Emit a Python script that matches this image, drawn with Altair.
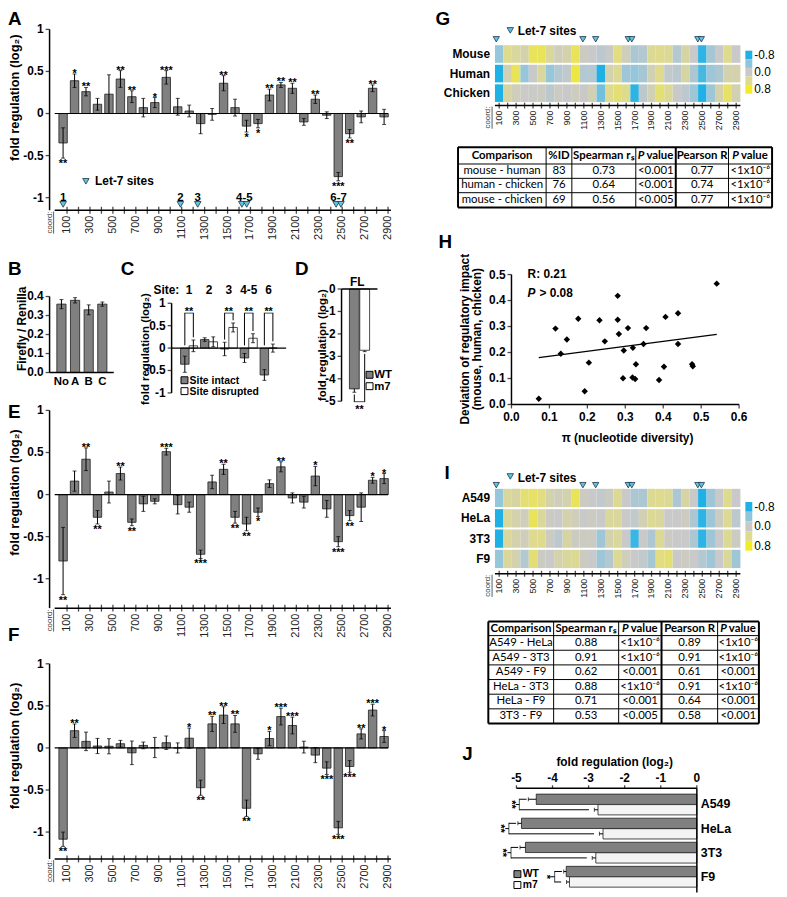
import altair as alt
import pandas as pd

# ================= data =================
coords = list(range(100, 3000, 100))
tick_coords = list(range(100, 3000, 100))
coord_tick_labels = [str(t) if t % 200 == 100 else "" for t in tick_coords]
let7_sites = [66, 1089, 1240, 1625, 1667, 2447, 2489]
let7_groups = ["1", "2", "3", "4-5", "6-7"]
let7_group_pos = [66, 1089, 1240, 1646, 2468]

A_val = [-0.35, 0.39, 0.26, 0.11, 0.23, 0.41, 0.20, 0.07, 0.13, 0.43, 0.08, 0.03, -0.12, -0.01, 0.36,
         0.07, -0.15, -0.12, 0.22, 0.34, 0.30, -0.10, 0.17, -0.02, -0.75, -0.24, -0.04, 0.30, -0.04]
A_err = [0.18, 0.08, 0.05, 0.07, 0.23, 0.10, 0.07, 0.11, 0.06, 0.08, 0.10, 0.07, 0.12, 0.07, 0.09,
         0.10, 0.07, 0.05, 0.07, 0.03, 0.06, 0.04, 0.05, 0.04, 0.05, 0.05, 0.07, 0.04, 0.09]
A_sig = ["**", "*", "**", "", "", "**", "**", "", "*", "***", "", "", "", "", "**",
         "", "*", "*", "**", "**", "**", "", "**", "", "***", "**", "", "**", ""]

E_val = [-0.79, 0.16, 0.42, -0.27, 0.03, 0.25, -0.33, -0.11, -0.08, 0.51, -0.12, -0.15, -0.71, 0.15, 0.30,
         -0.27, -0.35, -0.21, 0.13, 0.33, -0.04, -0.09, 0.22, -0.17, -0.56, -0.25, -0.15, 0.17, 0.19]
E_err = [0.40, 0.12, 0.135, 0.08, 0.13, 0.077, 0.04, 0.09, 0.03, 0.04, 0.11, 0.06, 0.05, 0.08, 0.06,
         0.07, 0.08, 0.05, 0.045, 0.06, 0.06, 0.07, 0.115, 0.10, 0.06, 0.06, 0.17, 0.035, 0.06]
E_sig = ["**", "", "**", "**", "", "**", "**", "", "", "***", "", "", "***", "", "**",
         "**", "**", "*", "", "**", "", "", "*", "", "***", "**", "", "*", "*"]

F_val = [-1.085, 0.205, 0.078, 0.023, 0.02, 0.05, -0.058, 0.03, 0.005, 0.062, 0.0, 0.116, -0.473, 0.286, 0.39,
         0.286, -0.717, -0.07, 0.112, 0.373, 0.267, 0.01, -0.085, -0.24, -0.95, -0.22, 0.167, 0.45, 0.136]
F_err = [0.085, 0.08, 0.11, 0.09, 0.09, 0.04, 0.14, 0.04, 0.12, 0.08, 0.06, 0.12, 0.09, 0.09, 0.10,
         0.10, 0.097, 0.065, 0.085, 0.10, 0.10, 0.07, 0.09, 0.075, 0.077, 0.07, 0.06, 0.07, 0.07]
F_sig = ["**", "**", "", "", "", "", "", "", "", "", "", "*", "**", "**", "**",
         "**", "**", "", "*", "***", "***", "", "", "***", "***", "***", "**", "***", "*"]

fold_ticks = [-1, -0.5, 0, 0.5, 1]
fold_tick_labels = ["-1", "-0.5", "0", "0.5", "1"]

B_cats = ["No", "A", "B", "C"]
B_val = [0.36, 0.38, 0.33, 0.36]
B_err = [0.024, 0.014, 0.026, 0.011]
B_ticks = [0.0, 0.1, 0.2, 0.3, 0.4]
B_tick_labels = ["0.0", "0.1", "0.2", "0.3", "0.4"]

C_sites = ["1", "2", "3", "4-5", "6"]
C_int_val = [-0.36, 0.19, -0.02, -0.22, -0.60]
C_int_err = [0.18, 0.04, 0.15, 0.10, 0.12]
C_dis_val = [0.05, 0.14, 0.46, 0.22, 0.0]
C_dis_err = [0.13, 0.11, 0.10, 0.10, 0.09]
C_sig = ["**", "", "**", "**", "**"]

D_cats = ["WT", "m7"]
D_val = [-4.45, -2.73]
D_err = [0.15, 0.06]
D_sig = ["**"]
D_ticks = [-5, -4, -3, -2, -1, 0]
D_tick_labels = ["-5", "-4", "-3", "-2", "-1", "0"]

G_rows = ["Mouse", "Human", "Chicken"]
G_mouse = [-0.35, 0.40, 0.30, 0.20, 0.60, 0.60, 0.30, 0.10, 0.20, 0.60, 0.05, 0.00, -0.10, 0.00, 0.45,
           0.10, -0.20, -0.15, 0.35, 0.40, 0.35, -0.15, 0.25, 0.00, -0.75, -0.25, 0.00, 0.40, 0.00]
G_human = [-0.80, 0.15, 0.60, -0.35, 0.00, 0.30, -0.35, -0.15, -0.05, 0.70, -0.15, -0.15, -0.80, 0.20, 0.35,
           -0.30, -0.35, -0.25, 0.15, 0.40, -0.05, -0.10, 0.25, -0.20, -0.65, -0.30, -0.20, 0.20, 0.20]
G_chicken = [-0.85, 0.25, 0.10, 0.02, 0.02, 0.05, -0.10, 0.04, 0.00, 0.07, 0.00, 0.15, -0.50, 0.40, 0.50,
             0.40, -0.75, -0.10, 0.15, 0.50, 0.35, 0.00, -0.10, -0.30, -0.80, -0.30, 0.20, 0.55, 0.15]

I_rows = ["A549", "HeLa", "3T3", "F9"]
I_a549 = [-0.35, 0.30, 0.25, 0.50, 0.55, 0.45, 0.20, 0.10, 0.20, 0.60, 0.05, 0.00, -0.05, 0.05, 0.35,
          0.00, -0.20, -0.20, 0.35, 0.40, 0.35, -0.20, 0.25, 0.00, -0.80, -0.30, 0.00, 0.40, 0.00]
I_hela = [-0.80, 0.30, 0.20, 0.10, 0.60, 0.30, 0.05, 0.00, 0.20, 0.10, 0.00, 0.05, 0.00, 0.30, 0.30,
          0.00, -0.05, 0.15, 0.35, 0.30, 0.00, 0.00, 0.05, -0.20, -0.75, -0.30, 0.05, 0.35, -0.10]
I_3t3 = [-0.80, 0.30, 0.20, 0.10, 0.40, 0.40, 0.05, -0.10, 0.25, 0.05, 0.05, 0.05, -0.30, 0.20, 0.30,
         0.00, -0.70, 0.00, -0.20, 0.35, 0.05, 0.00, 0.00, -0.20, -0.75, -0.30, 0.00, 0.35, 0.05]
I_f9 = [-0.35, 0.30, 0.20, -0.15, 0.50, 0.05, 0.00, 0.20, 0.30, 0.35, 0.05, 0.00, -0.30, -0.15, 0.35,
        0.10, 0.00, -0.05, -0.25, 0.45, 0.50, 0.00, 0.05, 0.00, -0.15, -0.30, 0.00, 0.30, -0.30]

heat_legend_vals = [-0.8, -0.4, 0.0, 0.4, 0.8]
heat_legend_ticks = [-0.8, 0.0, 0.8]
heat_legend_labels = ["-0.8", "0.0", "0.8"]

G_tbl_header = ["Comparison", "%ID", "Spearman rₛ", "P value", "Pearson R", "P value"]
G_tbl_rows = [["mouse - human", "83", "0.73", "<0.001", "0.77", "<1x10⁻⁶"],
              ["human - chicken", "76", "0.64", "<0.001", "0.74", "<1x10⁻⁶"],
              ["mouse - chicken", "69", "0.56", "<0.005", "0.77", "<1x10⁻⁶"]]

I_tbl_header = ["Comparison", "Spearman rₛ", "P value", "Pearson R", "P value"]
I_tbl_rows = [["A549 - HeLa", "0.88", "<1x10⁻⁶", "0.89", "<1x10⁻⁶"],
              ["A549 - 3T3", "0.91", "<1x10⁻⁶", "0.91", "<1x10⁻⁶"],
              ["A549 - F9", "0.62", "<0.001", "0.61", "<0.001"],
              ["HeLa - 3T3", "0.88", "<1x10⁻⁶", "0.91", "<1x10⁻⁶"],
              ["HeLa - F9", "0.71", "<0.001", "0.64", "<0.001"],
              ["3T3 - F9", "0.53", "<0.005", "0.58", "<0.001"]]

H_pi = [0.541, 0.280, 0.176, 0.232, 0.280, 0.116, 0.307, 0.355, 0.406, 0.439, 0.146, 0.130, 0.246, 0.283, 0.296,
        0.320, 0.348, 0.439, 0.204, 0.328, 0.402, 0.476, 0.478, 0.294, 0.319, 0.326, 0.389, 0.193, 0.072]
H_dev = [0.465, 0.418, 0.330, 0.324, 0.326, 0.292, 0.294, 0.294, 0.337, 0.351, 0.250, 0.195, 0.243, 0.271, 0.208,
         0.218, 0.233, 0.233, 0.161, 0.155, 0.145, 0.155, 0.147, 0.101, 0.104, 0.098, 0.094, 0.051, 0.022]
H_xticks = [0.0, 0.1, 0.2, 0.3, 0.4, 0.5, 0.6]
H_xtick_labels = ["0.0", "0.1", "0.2", "0.3", "0.4", "0.5", "0.6"]
H_yticks = [0.0, 0.1, 0.2, 0.3, 0.4, 0.5]
H_ytick_labels = ["0.0", "0.1", "0.2", "0.3", "0.4", "0.5"]

J_cats = ["A549", "HeLa", "3T3", "F9"]
J_wt = [-4.45, -4.86, -4.75, -3.62]
J_wt_err = [0.22, 0.10, 0.15, 0.07]
J_m7 = [-2.74, -2.60, -2.80, -3.53]
J_m7_err = [0.10, 0.10, 0.10, 0.08]
J_sig = ["**", "**", "**", "*"]
J_ticks = [-5, -4, -3, -2, -1, 0]
J_tick_labels = ["-5", "-4", "-3", "-2", "-1", "0"]

# ================= layout / style =================
W, H = 779, 889
FONT = "Liberation Sans"
TFONT = "Lato"
GRAY = "#808080"
EDGE = "#1e1e1e"
TRI_FILL = "#5fc5df"
TRI_EDGE = "#1d3347"
HEAT_RANGE = ["#1fb0e5", "#8fc5db", "#c9c9c9", "#dfdb8e", "#f3eb26"]
heat_scale = alt.Scale(domain=heat_legend_vals, range=HEAT_RANGE, clamp=True, interpolate="rgb")


def X(px):
    return px - 8


def Y(py):
    return py - 8


ONE = pd.DataFrame({"_": [0]})


def txt(s, x, y, size=12, weight="bold", angle=0, align="center", baseline="middle",
        font=FONT, style="normal", color="black"):
    return alt.Chart(ONE).mark_text(text=s, fontSize=size, fontWeight=weight, angle=angle, align=align,
                                    baseline=baseline, font=font, fontStyle=style, color=color).encode(
        x=alt.value(X(x)), y=alt.value(Y(y)))


def vline(x, y1, y2, w=0.8, color="#333"):
    return alt.Chart(ONE).mark_rule(color=color, strokeWidth=w).encode(
        x=alt.value(X(x)), y=alt.value(Y(y1)), y2=alt.value(Y(y2)))


def hline(y, x1, x2, w=1.5, color="black"):
    return alt.Chart(ONE).mark_rule(color=color, strokeWidth=w).encode(
        y=alt.value(Y(y)), x=alt.value(X(x1)), x2=alt.value(X(x2)))


def square(x, y, fill, s=7):
    return alt.Chart(ONE).mark_square(size=s * s, filled=True, fill=fill, stroke="black", strokeWidth=1,
                                      opacity=1).encode(x=alt.value(X(x)), y=alt.value(Y(y)))


def tri(x, y):
    return alt.Chart(ONE).mark_point(shape="triangle-down", filled=True, fill=TRI_FILL, stroke=TRI_EDGE,
                                     strokeWidth=0.8, size=42, opacity=1).encode(
        x=alt.value(X(x)), y=alt.value(Y(y)))


def coord_label(x_base, top, size=8):
    return [txt("coord:", x_base, top + 1, size=size, weight="normal", angle=270, align="right",
                baseline="alphabetic", color="#333"),
            vline(x_base + 1.6, top + 1, top + 1 + 2.8 * size)]


# ---- hand-built axes (ticks/labels placed through the panel scales) ----
def yaxis(px, vals, labels, lo=None, hi=None, tick=4, pad=2, size=12, weight="bold", side="left",
          ftype="Q", color="black"):
    df = pd.DataFrame({"v": vals, "lab": labels})
    s = -1 if side == "left" else 1
    L = []
    if lo is not None:
        L.append(alt.Chart(ONE).mark_rule(color="black", strokeWidth=1.5).encode(
            x=alt.value(X(px)), y=alt.YDatum(lo, axis=None), y2=alt.datum(hi)))
    if tick > 0:
        L.append(alt.Chart(df).mark_tick(orient="horizontal", size=tick, thickness=1.3, color="black").encode(
            x=alt.value(X(px) + s * tick / 2), y=alt.Y(f"v:{ftype}", axis=None)))
    L.append(alt.Chart(df).mark_text(font=FONT, fontSize=size, fontWeight=weight, color=color,
                                     align="right" if side == "left" else "left", baseline="middle").encode(
        x=alt.value(X(px) + s * (tick + pad)), y=alt.Y(f"v:{ftype}", axis=None), text="lab:N"))
    return L


def xaxis(py, vals, labels, lo=None, hi=None, tick=4, pad=2, size=12, weight="bold", side="bottom",
          angle=0, ftype="Q", color="black", cross=0):
    df = pd.DataFrame({"v": vals, "lab": labels})
    s = 1 if side == "bottom" else -1
    L = []
    if lo is not None:
        L.append(alt.Chart(ONE).mark_rule(color="black", strokeWidth=1.5).encode(
            y=alt.value(Y(py)), x=alt.XDatum(lo, axis=None), x2=alt.datum(hi)))
    if tick > 0:
        L.append(alt.Chart(df).mark_tick(orient="vertical", size=tick, thickness=1.3, color="black").encode(
            x=alt.X(f"v:{ftype}", axis=None), y=alt.value(Y(py) + s * tick / 2)))
    if cross > 0:
        L.append(alt.Chart(df).mark_tick(orient="vertical", size=cross, thickness=1.3, color="black").encode(
            x=alt.X(f"v:{ftype}", axis=None), y=alt.value(Y(py))))
    off = max(tick, cross / 2) + pad
    if angle == 270:
        L.append(alt.Chart(df).mark_text(font=FONT, fontSize=size, fontWeight=weight, color=color, angle=270,
                                         align="right", baseline="middle").encode(
            x=alt.X(f"v:{ftype}", axis=None), y=alt.value(Y(py) + off), text="lab:N"))
    else:
        L.append(alt.Chart(df).mark_text(font=FONT, fontSize=size, fontWeight=weight, color=color,
                                         baseline="top" if side == "bottom" else "alphabetic").encode(
            x=alt.X(f"v:{ftype}", axis=None), y=alt.value(Y(py) + s * off), text="lab:N"))
    return L


# ================= panels A, E, F =================
def coord_panel(vals, errs, sigs, ymin, zero_px, sites=False):
    df = pd.DataFrame({"coord": coords, "val": vals, "err": errs, "sig": sigs})
    df["lo"] = df["val"] - df["err"]
    df["hi"] = df["val"] + df["err"]
    bot = zero_px - ymin * 85
    xs = alt.Scale(domain=[0, 2900], range=[X(51.07), X(397)], nice=False, zero=False)
    ys = alt.Scale(domain=[ymin, 1], range=[Y(bot), Y(zero_px - 85)], nice=False, zero=False)
    xn = alt.X("coord:Q", axis=None)
    base = alt.Chart(df)
    layers = [
        base.mark_bar(fill=GRAY, stroke=EDGE, strokeWidth=0.8, width=8.5, xOffset=-4).encode(
            x=alt.X("coord:Q", scale=xs, axis=None),
            y=alt.Y("val:Q", scale=ys, axis=None),
            y2=alt.datum(0)),
        alt.Chart(ONE).mark_rule(color="black", strokeWidth=1.2).encode(
            x=alt.XDatum(-8, axis=None), x2=alt.datum(2900), y=alt.YDatum(0, axis=None)),
        base.mark_rule(color="black", strokeWidth=1, xOffset=-4).encode(
            x=xn, y=alt.Y("lo:Q", axis=None), y2="hi:Q"),
        base.mark_tick(orient="horizontal", size=4, thickness=1, color="black", xOffset=-4).encode(
            x=xn, y=alt.Y("hi:Q", axis=None)),
        base.mark_tick(orient="horizontal", size=4, thickness=1, color="black", xOffset=-4).encode(
            x=xn, y=alt.Y("lo:Q", axis=None)),
        base.transform_filter("datum.sig != '' && datum.val >= 0").mark_text(
            font=FONT, fontSize=11, fontWeight="bold", color="black", baseline="alphabetic", dy=3, dx=-4).encode(
            x=xn, y=alt.Y("hi:Q", axis=None), text="sig:N"),
        base.transform_filter("datum.sig != '' && datum.val < 0").mark_text(
            font=FONT, fontSize=11, fontWeight="bold", color="black", baseline="top", dy=0, dx=-4).encode(
            x=xn, y=alt.Y("lo:Q", axis=None), text="sig:N"),
    ]
    layers += yaxis(50, fold_ticks, fold_tick_labels, lo=ymin, hi=1)
    layers += xaxis(bot, tick_coords, coord_tick_labels, lo=-8, hi=2925, tick=0, cross=7, pad=2,
                    size=11, weight="normal", angle=270, color="#222")
    if sites:
        layers.append(alt.Chart(pd.DataFrame({"site": let7_sites})).mark_point(
            shape="triangle-down", filled=True, fill=TRI_FILL, stroke=TRI_EDGE, strokeWidth=0.8,
            size=45, opacity=1).encode(x=alt.X("site:Q", axis=None), y=alt.YDatum(-1.08, axis=None)))
        layers.append(alt.Chart(pd.DataFrame({"pos": let7_group_pos, "lab": let7_groups})).mark_text(
            font=FONT, fontSize=11.5, fontWeight="bold", color="black").encode(
            x=alt.X("pos:Q", axis=None), y=alt.YDatum(-1.0, axis=None), text="lab:N"))
    return alt.layer(*layers)


panelA = coord_panel(A_val, A_err, A_sig, -1.15, 110, sites=True)
panelE = coord_panel(E_val, E_err, E_sig, -1.35, 495)
panelF = coord_panel(F_val, F_err, F_sig, -1.32, 751)

# ================= panel B =================
dfB = pd.DataFrame({"cat": B_cats, "val": B_val, "err": B_err})
dfB["lo"] = dfB["val"] - dfB["err"]
dfB["hi"] = dfB["val"] + dfB["err"]
xsB = alt.Scale(domain=B_cats, range=[X(50.45), X(114.85)], paddingInner=0.325, paddingOuter=0.5)
ysB = alt.Scale(domain=[0, 0.4], range=[Y(371.7), Y(294.9)], nice=False, zero=False)
bB = alt.Chart(dfB)
xB = alt.X("cat:N", axis=None, sort=B_cats)
panelB = alt.layer(
    bB.mark_bar(fill=GRAY, stroke=EDGE, strokeWidth=0.8).encode(
        x=alt.X("cat:N", scale=xsB, sort=B_cats, axis=None),
        y=alt.Y("val:Q", scale=ysB, axis=None),
        y2=alt.datum(0)),
    bB.mark_rule(color="black", strokeWidth=1).encode(x=xB, y=alt.Y("lo:Q", axis=None), y2="hi:Q"),
    bB.mark_tick(orient="horizontal", size=4, thickness=1, color="black").encode(x=xB, y=alt.Y("hi:Q", axis=None)),
    bB.mark_tick(orient="horizontal", size=4, thickness=1, color="black").encode(x=xB, y=alt.Y("lo:Q", axis=None)),
    hline(371.7, 50, 114.85),
    *yaxis(50, B_ticks, B_tick_labels, lo=0, hi=0.4),
    *xaxis(371.7, B_cats, B_cats, tick=0, pad=4, size=11.5, ftype="N"),
)

# ================= panel C =================
dfC = pd.DataFrame({"site": C_sites, "iv": C_int_val, "ie": C_int_err, "dv": C_dis_val, "de": C_dis_err,
                    "sig": C_sig})
dfC["ilo"] = dfC["iv"] - dfC["ie"]
dfC["ihi"] = dfC["iv"] + dfC["ie"]
dfC["dlo"] = dfC["dv"] - dfC["de"]
dfC["dhi"] = dfC["dv"] + dfC["de"]
dfC["br"] = 0.78
dfC["lg"] = dfC["ihi"].clip(lower=0) + 0.06
dfC["rg"] = dfC["dhi"].clip(lower=0) + 0.06
xsC = alt.Scale(domain=C_sites, range=[X(173.3), X(289)], paddingInner=0, paddingOuter=0.38)
ysC = alt.Scale(domain=[-1, 1], range=[Y(392.3), Y(301.7)], nice=False, zero=False)
bC = alt.Chart(dfC)
xC = alt.X("site:N", axis=None, sort=C_sites)
bC_sig = bC.transform_filter("datum.sig != ''")
OFF = 4.3
panelC = alt.layer(
    bC.mark_bar(fill=GRAY, stroke=EDGE, strokeWidth=0.8, width=8.6, xOffset=-OFF).encode(
        x=alt.X("site:N", scale=xsC, sort=C_sites, axis=None),
        y=alt.Y("iv:Q", scale=ysC, axis=None),
        y2=alt.datum(0)),
    bC.mark_bar(fill="white", stroke=EDGE, strokeWidth=0.8, width=8.6, xOffset=OFF).encode(
        x=xC, y=alt.Y("dv:Q", axis=None), y2=alt.datum(0)),
    bC.mark_rule(color="black", strokeWidth=1, xOffset=-OFF).encode(x=xC, y=alt.Y("ilo:Q", axis=None), y2="ihi:Q"),
    bC.mark_rule(color="black", strokeWidth=1, xOffset=OFF).encode(x=xC, y=alt.Y("dlo:Q", axis=None), y2="dhi:Q"),
    bC.mark_tick(orient="horizontal", size=4, thickness=1, color="black", xOffset=-OFF).encode(
        x=xC, y=alt.Y("ilo:Q", axis=None)),
    bC.mark_tick(orient="horizontal", size=4, thickness=1, color="black", xOffset=-OFF).encode(
        x=xC, y=alt.Y("ihi:Q", axis=None)),
    bC.mark_tick(orient="horizontal", size=4, thickness=1, color="black", xOffset=OFF).encode(
        x=xC, y=alt.Y("dlo:Q", axis=None)),
    bC.mark_tick(orient="horizontal", size=4, thickness=1, color="black", xOffset=OFF).encode(
        x=xC, y=alt.Y("dhi:Q", axis=None)),
    bC_sig.mark_rule(color="black", strokeWidth=1, xOffset=-OFF).encode(
        x=xC, y=alt.Y("br:Q", axis=None), y2="lg:Q"),
    bC_sig.mark_rule(color="black", strokeWidth=1, xOffset=OFF).encode(
        x=xC, y=alt.Y("br:Q", axis=None), y2="rg:Q"),
    bC_sig.mark_tick(orient="horizontal", size=2 * OFF + 1, thickness=1, color="black").encode(
        x=xC, y=alt.Y("br:Q", axis=None)),
    bC_sig.mark_text(font=FONT, fontSize=11, fontWeight="bold", color="black", baseline="alphabetic", dy=2).encode(
        x=xC, y=alt.Y("br:Q", axis=None), text="sig:N"),
    bC.mark_text(font=FONT, fontSize=12, fontWeight="bold", color="black").encode(
        x=xC, y=alt.value(Y(288.3)), text="site:N"),
    alt.Chart(ONE).mark_rule(color="black", strokeWidth=1.3).encode(
        y=alt.YDatum(0, axis=None), x=alt.value(X(173.3)), x2=alt.value(X(289))),
    *yaxis(173.3, fold_ticks, fold_tick_labels, lo=-1, hi=1),
)

# ================= panel D =================
dfD = pd.DataFrame({"cat": D_cats, "val": D_val, "err": D_err})
dfD["lo"] = dfD["val"] - dfD["err"]
dfD["br"] = dfD["lo"].min() - 0.42
dfD["leg"] = dfD["lo"] - 0.1
dfD["sig"] = D_sig[0]
xsD = alt.Scale(domain=D_cats, range=[X(345), X(381.3)], paddingInner=0.05, paddingOuter=0.76)
ysD = alt.Scale(domain=[-5, 0], range=[Y(400.7), Y(287.3)], nice=False, zero=False)
bD = alt.Chart(dfD)
xD = alt.X("cat:N", axis=None, sort=D_cats)
bD_wt = bD.transform_filter("datum.cat == 'WT'")
panelD = alt.layer(
    bD.mark_bar(stroke=EDGE, strokeWidth=0.8).encode(
        x=alt.X("cat:N", scale=xsD, sort=D_cats, axis=None),
        y=alt.Y("val:Q", scale=ysD, axis=None),
        y2=alt.datum(0),
        fill=alt.condition("datum.cat == 'WT'", alt.value(GRAY), alt.value("white"))),
    bD.mark_rule(color="black", strokeWidth=1).encode(x=xD, y=alt.Y("val:Q", axis=None), y2="lo:Q"),
    bD.mark_tick(orient="horizontal", size=4, thickness=1, color="black").encode(x=xD, y=alt.Y("lo:Q", axis=None)),
    bD.mark_rule(color="black", strokeWidth=1).encode(x=xD, y=alt.Y("leg:Q", axis=None), y2="br:Q"),
    bD_wt.mark_tick(orient="horizontal", size=11.5, thickness=1, color="black", xOffset=5.2).encode(
        x=xD, y=alt.Y("br:Q", axis=None)),
    bD_wt.mark_text(font=FONT, fontSize=11, fontWeight="bold", color="black", baseline="top", dy=2, dx=5.2).encode(
        x=xD, y=alt.Y("br:Q", axis=None), text="sig:N"),
    alt.Chart(ONE).mark_rule(color="black", strokeWidth=1.5).encode(
        y=alt.YDatum(0, axis=None), x=alt.value(X(345)), x2=alt.value(X(381.3))),
    *yaxis(345, D_ticks, D_tick_labels, lo=-5, hi=0),
)


# ================= heatmaps G, I =================
def heat_panel(rows, mats, top_px, bot_px, axis_px, tri_px):
    recs = []
    for r, arr in zip(rows, mats):
        for c, v in zip(coords, arr):
            recs.append({"coord": c, "row": r, "v": v})
    df = pd.DataFrame(recs)
    df["x0"] = df["coord"] - 50
    df["x1"] = df["coord"] + 50
    xs = alt.Scale(domain=[50, 2950], range=[X(500), X(748)], nice=False, zero=False)
    ys = alt.Scale(domain=rows, range=[Y(top_px), Y(bot_px)], paddingInner=0.1, paddingOuter=0)
    rect = alt.Chart(df).mark_rect(strokeWidth=0).encode(
        x=alt.X("x0:Q", scale=xs, axis=None),
        x2="x1:Q",
        y=alt.Y("row:N", scale=ys, sort=rows, axis=None),
        color=alt.Color("v:Q", scale=heat_scale, legend=None))
    tris = alt.Chart(pd.DataFrame({"site": let7_sites})).mark_point(
        shape="triangle-down", filled=True, fill=TRI_FILL, stroke=TRI_EDGE, strokeWidth=0.8, size=40,
        opacity=1).encode(x=alt.X("site:Q", axis=None), y=alt.value(Y(tri_px)))
    rowlab = alt.Chart(pd.DataFrame({"row": rows})).mark_text(
        font=FONT, fontSize=12, fontWeight="bold", color="black", align="right", baseline="middle").encode(
        x=alt.value(X(495)), y=alt.Y("row:N", axis=None, sort=rows), text="row:N")
    return alt.layer(rect, tris, rowlab,
                     *xaxis(axis_px, tick_coords, coord_tick_labels, lo=50, hi=2950, tick=0, cross=6, pad=2,
                            size=9, weight="normal", angle=270, color="#222"))


def colorbar(top_px, bot_px):
    df = pd.DataFrame({"v": heat_legend_vals})
    df["lo"] = df["v"] - 0.2
    df["hi"] = df["v"] + 0.2
    ys = alt.Scale(domain=[-1, 1], range=[Y(top_px), Y(bot_px)], nice=False, zero=False)
    rect = alt.Chart(df).mark_rect().encode(
        x=alt.value(X(753)), x2=alt.value(X(760)),
        y=alt.Y("lo:Q", scale=ys, axis=None),
        y2="hi:Q",
        color=alt.Color("v:Q", scale=heat_scale, legend=None))
    return alt.layer(rect, *yaxis(760, heat_legend_ticks, heat_legend_labels, tick=0, pad=2, size=12,
                                  weight="normal", side="right"))


panelG = heat_panel(G_rows, [G_mouse, G_human, G_chicken], 41, 98.3, 102, 35)
panelGcb = colorbar(46.5, 90)
panelI = heat_panel(I_rows, [I_a549, I_hela, I_3t3, I_f9], 489.2, 569.3, 575, 485.5)
panelIcb = colorbar(502.5, 551.7)


# ================= tables =================
def table_panel(header, rows, col_edges, row_edges, thick_cols, fs):
    x0, x1 = col_edges[0], col_edges[-1]
    y0, y1 = row_edges[0], row_edges[-1]
    tw, th = x1 - x0, y1 - y0
    xs = alt.Scale(domain=[0, tw], range=[X(x0), X(x1)], nice=False, zero=False)
    ys = alt.Scale(domain=[0, th], range=[Y(y0), Y(y1)], nice=False, zero=False)
    nr, nc = len(row_edges), len(col_edges)
    hl = pd.DataFrame({"y": [e - y0 for e in row_edges],
                       "w": [2.0 if i in (0, nr - 1) else 1.0 for i in range(nr)]})
    vl = pd.DataFrame({"x": [e - x0 for e in col_edges],
                       "w": [2.0 if (i in (0, nc - 1) or i in thick_cols) else 1.0 for i in range(nc)]})
    head, phead, body = [], [], []
    hy = (row_edges[0] + row_edges[1]) / 2 - y0
    for j, h in enumerate(header):
        cx = (col_edges[j] + col_edges[j + 1]) / 2 - x0
        if h.startswith("P "):
            phead.append({"cx": cx, "cy": hy, "p": h[0], "rest": h[2:]})
        else:
            head.append({"cx": cx, "cy": hy, "t": h})
    for i, r in enumerate(rows):
        cy = (row_edges[i + 1] + row_edges[i + 2]) / 2 - y0
        for j, t in enumerate(r):
            cx = (col_edges[j] + col_edges[j + 1]) / 2 - x0
            body.append({"cx": cx, "cy": cy, "t": t})
    xn = alt.X("cx:Q", axis=None)
    yn = alt.Y("cy:Q", axis=None)
    return alt.layer(
        alt.Chart(vl).mark_rule(color="black").encode(
            x=alt.X("x:Q", scale=xs, axis=None), y=alt.YDatum(0, scale=ys, axis=None), y2=alt.datum(th),
            strokeWidth=alt.StrokeWidth("w:Q", scale=None)),
        alt.Chart(hl).mark_rule(color="black").encode(
            x=alt.XDatum(0, axis=None), x2=alt.datum(tw), y=alt.Y("y:Q", axis=None),
            strokeWidth=alt.StrokeWidth("w:Q", scale=None)),
        alt.Chart(pd.DataFrame(head)).mark_text(font=TFONT, fontSize=fs, fontWeight="bold", color="black").encode(
            x=xn, y=yn, text="t:N"),
        alt.Chart(pd.DataFrame(phead)).mark_text(font=TFONT, fontSize=fs, fontWeight="bold", fontStyle="italic",
                                                 color="black", align="right", dx=-11.5).encode(
            x=xn, y=yn, text="p:N"),
        alt.Chart(pd.DataFrame(phead)).mark_text(font=TFONT, fontSize=fs, fontWeight="bold", color="black",
                                                 align="left", dx=-9.5).encode(x=xn, y=yn, text="rest:N"),
        alt.Chart(pd.DataFrame(body)).mark_text(font=TFONT, fontSize=fs, color="black").encode(
            x=xn, y=yn, text="t:N"),
    )


tableG = table_panel(G_tbl_header, G_tbl_rows, [462.7, 551.7, 577.7, 642.3, 682.7, 736, 780],
                     [144, 161, 175.5, 190, 205], [4], 11.5)
tableI = table_panel(I_tbl_header, I_tbl_rows, [493.3, 559.3, 625, 668.3, 725, 766.7],
                     [623.3, 637.5, 652.3, 667.1, 681.9, 696.7, 711.5, 726.3], [3], 11.5)

# ================= panel H =================
dfH = pd.DataFrame({"pi": H_pi, "dev": H_dev})
xsH = alt.Scale(domain=[0, 0.6], range=[X(516.7), X(746.7)], nice=False, zero=False)
ysH = alt.Scale(domain=[0, 0.5], range=[Y(404), Y(272.7)], nice=False, zero=False)
panelH = alt.layer(
    alt.Chart(dfH).mark_point(shape="diamond", filled=True, color="black", size=42, opacity=1).encode(
        x=alt.X("pi:Q", scale=xsH, axis=None),
        y=alt.Y("dev:Q", scale=ysH, axis=None)),
    alt.Chart(dfH).transform_regression("pi", "dev").mark_line(color="black", strokeWidth=1.3).encode(
        x=alt.X("pi:Q", axis=None), y=alt.Y("dev:Q", axis=None)),
    *yaxis(516.7, H_yticks, H_ytick_labels, lo=0, hi=0.5),
    *xaxis(404, H_xticks, H_xtick_labels, lo=0, hi=0.6, tick=4, pad=4),
)

# ================= panel J =================
dfJ = pd.DataFrame({"cat": J_cats, "wt": J_wt, "wte": J_wt_err, "m7": J_m7, "m7e": J_m7_err, "sig": J_sig})
dfJ["wt_lo"] = dfJ["wt"] - dfJ["wte"]
dfJ["m7_lo"] = dfJ["m7"] - dfJ["m7e"]
dfJ["bx"] = dfJ[["wt_lo", "m7_lo"]].min(axis=1) - 0.25
dfJ["wt_leg"] = dfJ["wt_lo"] - 0.05
dfJ["m7_leg"] = dfJ["m7_lo"] - 0.15
dfJ["dash"] = dfJ["bx"] - 0.1
dfJ["star"] = dfJ["bx"] - 0.24
xsJ = alt.Scale(domain=[-5, 0], range=[X(521.7), X(704)], nice=False, zero=False)
ysJ = alt.Scale(domain=J_cats, range=[Y(796), Y(893.3)], paddingInner=0, paddingOuter=0)
bJ = alt.Chart(dfJ)
yJ = alt.Y("cat:N", axis=None, sort=J_cats)
JO = 5.3
panelJ = alt.layer(
    bJ.mark_bar(height=10.4, yOffset=-JO, fill=GRAY, stroke=EDGE, strokeWidth=0.8).encode(
        x=alt.X("wt:Q", scale=xsJ, axis=None),
        x2=alt.datum(0),
        y=alt.Y("cat:N", scale=ysJ, sort=J_cats, axis=None)),
    bJ.mark_bar(height=10.4, yOffset=JO, fill="#f4f4f4", stroke=EDGE, strokeWidth=0.8).encode(
        x=alt.X("m7:Q", axis=None), x2=alt.datum(0), y=yJ),
    bJ.mark_rule(color="black", strokeWidth=1, yOffset=-JO).encode(x=alt.X("wt:Q", axis=None), x2="wt_lo:Q", y=yJ),
    bJ.mark_rule(color="black", strokeWidth=1, yOffset=JO).encode(x=alt.X("m7:Q", axis=None), x2="m7_lo:Q", y=yJ),
    bJ.mark_tick(orient="vertical", size=4, thickness=1, color="black", yOffset=-JO).encode(
        x=alt.X("wt_lo:Q", axis=None), y=yJ),
    bJ.mark_tick(orient="vertical", size=4, thickness=1, color="black", yOffset=JO).encode(
        x=alt.X("m7_lo:Q", axis=None), y=yJ),
    bJ.mark_rule(color="black", strokeWidth=1, yOffset=-JO).encode(
        x=alt.X("wt_leg:Q", axis=None), x2="bx:Q", y=yJ),
    bJ.mark_rule(color="black", strokeWidth=1, yOffset=JO).encode(
        x=alt.X("m7_leg:Q", axis=None), x2="bx:Q", y=yJ),
    bJ.mark_tick(orient="vertical", size=2 * JO + 1, thickness=1, color="black").encode(
        x=alt.X("bx:Q", axis=None), y=yJ),
    bJ.mark_rule(color="black", strokeWidth=1).encode(x=alt.X("bx:Q", axis=None), x2="dash:Q", y=yJ),
    bJ.mark_text(font=FONT, fontSize=11, fontWeight="bold", color="black", angle=90, baseline="middle").encode(
        x=alt.X("star:Q", axis=None), y=yJ, text="sig:N"),
    vline(704, 791.7, 897, w=1.5, color="black"),
    alt.Chart(pd.DataFrame({"cat": J_cats})).mark_text(
        font=FONT, fontSize=12.5, fontWeight="bold", color="black", align="left", baseline="middle").encode(
        x=alt.value(X(708)), y=yJ, text="cat:N"),
    *xaxis(791.7, J_ticks, J_tick_labels, lo=-5, hi=0, tick=3, pad=3, side="top"),
)

# ================= annotations =================
ann = [
    txt("A", 8, 15, size=19, align="left"), txt("B", 8, 267, size=19, align="left"),
    txt("C", 122, 267, size=19, align="left"), txt("D", 298, 267, size=19, align="left"),
    txt("E", 8, 412, size=19, align="left"), txt("F", 8, 637, size=19, align="left"),
    txt("G", 440, 15, size=19, align="left"), txt("H", 443, 240, size=19, align="left"),
    txt("I", 449, 473, size=19, align="left"), txt("J", 467, 757, size=19, align="left"),
    # axis titles
    txt("fold regulation (log₂)", 15, 94, size=13, angle=270),
    txt("Firefly / Renilla", 21.7, 327.5, size=12, angle=270),
    txt("fold regulation (log₂)", 147, 348, size=11.5, angle=270),
    txt("fold regulation (log₂)", 326, 344, size=11.5, angle=270),
    txt("fold regulation (log₂)", 15, 493, size=13, angle=270),
    txt("fold regulation (log₂)", 15, 749, size=13, angle=270),
    txt("Deviation of regulatory impact", 470, 338, size=12, angle=270),
    txt("(mouse, human, chicken)", 482, 338, size=12, angle=270),
    txt("π (nucleotide diversity)", 634, 438, size=12),
    txt("fold regulation (log₂)", 621, 765, size=12),
    # panel A legend
    tri(86.7, 178.5), txt("Let-7 sites", 96, 178, size=12, align="left"),
    # heatmap legends
    tri(515.5, 26), txt("Let-7 sites", 523, 27, size=12, align="left"),
    tri(515.5, 476.7), txt("Let-7 sites", 523, 478, size=12, align="left"),
    # panel C header + legend
    txt("Site:", 168, 288.3, size=12),
    square(186.3, 379.5, GRAY), txt("Site intact", 191.5, 380, size=10.5, align="left"),
    square(186.3, 390.5, "white"), txt("Site disrupted", 191.5, 391, size=10.5, align="left"),
    # panel D
    txt("FL", 361, 280, size=12),
    square(373.3, 374, GRAY), txt("WT", 378, 374.5, size=11.5, align="left"),
    square(373.3, 385.5, "white"), txt("m7", 378, 386, size=11.5, align="left"),
    # panel H
    txt("R: 0.21", 533, 272, size=12, align="left"),
    txt("P", 533, 291, size=12, align="left", style="italic"),
    txt("> 0.08", 545, 291, size=12, align="left"),
    # panel J legend
    square(522.7, 878.5, GRAY), txt("WT", 528, 878.5, size=10.5, align="left"),
    square(522.7, 889.5, "white"), txt("m7", 528, 889.5, size=10.5, align="left"),
]
ann += coord_label(52.5, 208) + coord_label(52.5, 610) + coord_label(52.5, 863.3)
ann += coord_label(495.5, 102) + coord_label(495.5, 575)

chart = alt.layer(
    panelA, panelE, panelF, panelB, panelC, panelD,
    panelG, panelGcb, tableG, panelH, panelI, panelIcb, tableI, panelJ, *ann
).resolve_scale(x="independent", y="independent").properties(
    width=W, height=H, autosize=alt.AutoSizeParams(type="none"), padding=0, background="white"
).configure_view(stroke=None)

chart.save("out.html", embed_options={"renderer": "svg", "actions": False})
